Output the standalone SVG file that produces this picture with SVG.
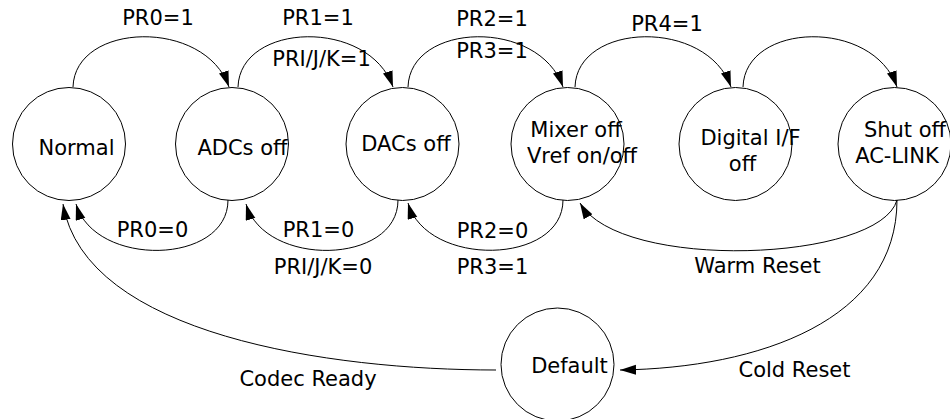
<svg xmlns="http://www.w3.org/2000/svg" width="950" height="419" viewBox="0 0 950 419">
<style>
.n{fill:none;stroke:#000;stroke-width:1}
.c{fill:none;stroke:#000;stroke-width:1;marker-end:url(#ah)}
text{font-family:"DejaVu Sans",Verdana,sans-serif;font-size:21px;fill:#000;text-anchor:middle}
</style>
<defs>
<marker id="ah" markerUnits="userSpaceOnUse" markerWidth="17" markerHeight="11" refX="16" refY="5" orient="auto">
<path d="M0,0 L16,5 L0,10 z" fill="#000"/>
</marker>
</defs>
<rect width="950" height="419" fill="#fff"/>
<g id="connectors">
<path class="c" d="M73,87 C75,22 205,18 229,87"/>
<path class="c" d="M238,87 C240,22 369,18 393,87"/>
<path class="c" d="M408,87 C410,22 539,18 563,87"/>
<path class="c" d="M575,87 C577,22 707,18 731,87"/>
<path class="c" d="M743,87 C745,22 873,18 897,87"/>
<path class="c" d="M228,200 C228,265 95,268 76,204"/>
<path class="c" d="M398,200 C398,265 265,268 246,204"/>
<path class="c" d="M563,200 C563,265 427,268 408,203"/>
<path class="c" d="M897,200 C880,262 620,272 580,203"/>
<path class="c" d="M897,200 C897,320 760,368 620,370"/>
<path class="c" d="M496,370 C330,370 85,335 63,204"/>
<text x="158" y="25">PR0=1</text>
<text x="318" y="25">PR1=1</text>
<text x="321.5" y="66">PRI/J/K=1</text>
<text x="492" y="26">PR2=1</text>
<text x="492" y="58">PR3=1</text>
<text x="667" y="31">PR4=1</text>
<text x="152.5" y="237">PR0=0</text>
<text x="318.5" y="237">PR1=0</text>
<text x="323" y="274">PRI/J/K=0</text>
<text x="492.5" y="238">PR2=0</text>
<text x="492.5" y="274">PR3=1</text>
<text x="757.5" y="273">Warm Reset</text>
<text x="794.5" y="377">Cold Reset</text>
<text x="308" y="386">Codec Ready</text>
</g>
<g id="normal"><circle class="n" cx="69" cy="144" r="56.5"/><text x="76.5" y="155">Normal</text></g>
<g id="adcs-off"><circle class="n" cx="232" cy="144" r="56.5"/><text x="242.5" y="155">ADCs off</text></g>
<g id="dacs-off"><circle class="n" cx="402.5" cy="144" r="56.5"/><text x="406" y="151">DACs off</text></g>
<g id="mixer-off"><circle class="n" cx="567.5" cy="144" r="56.5"/><text x="576" y="137">Mixer off</text><text x="582" y="163">Vref on/off</text></g>
<g id="digital-if-off"><circle class="n" cx="735.5" cy="144" r="56.5"/><text x="750.5" y="145">Digital I/F</text><text x="742.5" y="171">off</text></g>
<g id="shut-off"><circle class="n" cx="894.5" cy="144" r="56.5"/><text x="905" y="137">Shut off</text><text x="897" y="163">AC-LINK</text></g>
<g id="default"><circle class="n" cx="557.5" cy="364.5" r="56.5"/><text x="569.5" y="373">Default</text></g>
</svg>
